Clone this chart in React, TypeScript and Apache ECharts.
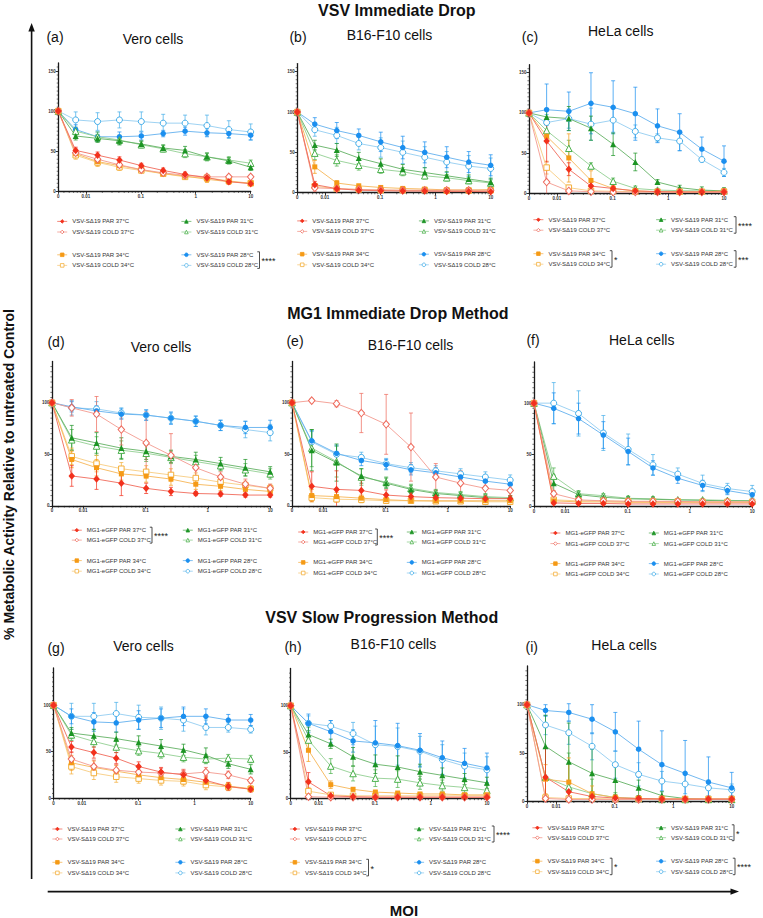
import React, { useEffect, useRef } from "react";
import * as echarts from "echarts";

const FONT = "'Liberation Sans', Arial, Helvetica, sans-serif";

// ---------------- data ----------------
// MOI doses (2.5-fold dilutions from 10); 0 = untreated control
const MOI = [0, 0.0065536, 0.016384, 0.04096, 0.1024, 0.256, 0.64, 1.6, 4, 10];
const X_TICK_LABELS = ["0", "0.01", "0.1", "1", "10"];
const Y_TICK_STEP = 50;

const SECTION_TITLES = ["VSV Immediate Drop", "MG1 Immediate Drop Method", "VSV Slow Progression Method"];
const PANEL_LETTERS = ["(a)", "(b)", "(c)", "(d)", "(e)", "(f)", "(g)", "(h)", "(i)"];
const PANEL_CELLS = ["Vero cells", "B16-F10 cells", "HeLa cells", "Vero cells", "B16-F10 cells", "HeLa cells", "Vero cells", "B16-F10 cells", "HeLa cells"];
const PANEL_VIRUS = ["VSV-SΔ19", "VSV-SΔ19", "VSV-SΔ19", "MG1-eGFP", "MG1-eGFP", "MG1-eGFP", "VSV-SΔ19", "VSV-SΔ19", "VSV-SΔ19"];
// series order in every panel: PAR 37, COLD 37, PAR 34, COLD 34, PAR 31, COLD 31, PAR 28, COLD 28
const SERIES_LABELS = ["PAR 37°C", "COLD 37°C", "PAR 34°C", "COLD 34°C", "PAR 31°C", "COLD 31°C", "PAR 28°C", "COLD 28°C"];

// (a) VSV immediate drop, Vero
const a_mean = [
  [100, 51, 45, 39, 32, 26, 21, 17, 12, 9.5],
  [100, 48, 40, 33, 27, 23, 20, 18, 18, 18],
  [100, 47, 37, 32, 27, 22, 19, 15, 12, 10],
  [100, 45, 36, 30, 26, 22, 18, 17, 13, 10],
  [100, 69, 66, 63, 59, 54, 51, 43, 38, 30],
  [100, 75, 68, 64, 58, 53, 47, 43, 39, 35],
  [100, 77, 68, 68, 69, 72, 75, 73, 72, 70],
  [100, 89, 87, 89, 87, 85, 85, 82, 77, 74],
];
const a_sd = [
  [0, 4, 4, 4, 3, 3, 3, 3, 3, 2],
  [0, 5, 5, 4, 3, 3, 3, 3, 2, 2],
  [0, 5, 5, 4, 3, 3, 3, 4, 3, 2],
  [0, 5, 5, 4, 3, 3, 3, 4, 3, 2],
  [0, 5, 5, 5, 4, 4, 5, 5, 4, 4],
  [0, 5, 6, 6, 4, 4, 5, 4, 4, 4],
  [0, 6, 6, 6, 5, 4, 5, 5, 5, 6],
  [0, 10, 11, 10, 12, 11, 10, 13, 11, 10],
];
// (b) VSV immediate drop, B16-F10
const b_mean = [
  [100, 10, 5, 3, 2.5, 2, 2, 1.6, 1.6, 1.2],
  [100, 6, 5, 4, 3.5, 3, 3, 3, 3, 3],
  [100, 32, 12, 8.5, 6.5, 5.3, 4.5, 3.5, 3.5, 3.7],
  [100, 8, 5, 4, 3, 3, 3, 2.5, 2.5, 3],
  [100, 59, 53, 43, 36, 29, 25, 21, 17, 13],
  [100, 49, 40, 34, 29, 26, 21, 18.5, 15, 12],
  [100, 85, 77, 71, 63, 56, 50, 44, 38, 34],
  [100, 78, 71, 61, 56, 50, 44, 38, 33, 30],
];
const b_sd = [
  [0, 4, 2, 2, 1, 1, 1, 1, 1, 1],
  [0, 4, 2, 2, 1, 1, 1, 1, 1, 1],
  [0, 8, 3, 2, 2, 1, 1, 1, 1, 1],
  [0, 3, 2, 1, 1, 1, 1, 1, 1, 1],
  [0, 6, 8, 7, 6, 6, 6, 5, 5, 5],
  [0, 8, 7, 6, 5, 5, 4, 4, 4, 4],
  [0, 8, 10, 8, 12, 14, 13, 13, 13, 13],
  [0, 8, 10, 8, 12, 14, 13, 13, 13, 13],
];
// (c) VSV immediate drop, HeLa
const c_mean = [
  [100, 65, 30, 9, 6, 3, 2, 1.6, 1.6, 1.6],
  [100, 14, 3, 2, 1.5, 1.5, 1.5, 1.5, 1.5, 1.5],
  [100, 71, 44, 16, 6, 3, 2, 1.6, 1.6, 3],
  [100, 32, 7, 3, 2.5, 2, 2, 2, 2, 2],
  [100, 95, 93, 81, 61, 39, 14, 7, 4, 3],
  [100, 78, 56, 34, 15, 6, 4, 3.3, 3, 3],
  [100, 104, 102, 112, 107, 99, 84, 76, 55, 40],
  [100, 88, 93, 86, 91, 77, 69, 65, 42, 26],
];
const c_sd = [
  [0, 26, 8, 5, 3, 2, 1, 1, 1, 1],
  [0, 20, 3, 1, 1, 1, 1, 1, 1, 1],
  [0, 5, 30, 12, 4, 2, 1, 1, 1, 1],
  [0, 8, 3, 1, 1, 1, 1, 1, 1, 1],
  [0, 10, 15, 15, 14, 11, 3, 3, 4, 4],
  [0, 8, 10, 4, 4, 3, 2, 1, 1, 1],
  [0, 32, 24, 38, 33, 33, 21, 23, 15, 19],
  [0, 10, 12, 20, 15, 8, 5, 12, 3, 5],
];
// (d) MG1 immediate drop, Vero
const d_mean = [
  [100, 29, 26, 22, 17, 14, 12, 11.5, 10.5, 10.5],
  [100, 95, 89, 74, 61, 49, 37, 28, 21, 17],
  [100, 45, 37, 31, 29, 26, 21, 19, 16, 14],
  [100, 48, 41, 36, 33, 30, 27, 23, 20, 17],
  [100, 66, 61, 56, 53, 48, 45, 41, 37, 33],
  [100, 64, 58, 54, 51, 47, 43, 39, 35, 31],
  [100, 96, 92, 89, 88, 85, 82, 78, 76, 76],
  [100, 95, 94, 90, 88, 85, 82, 78, 74, 71],
];
const d_sd = [
  [0, 10, 10, 12, 5, 4, 2, 2, 2, 2],
  [0, 8, 17, 15, 30, 21, 8, 5, 5, 4],
  [0, 8, 8, 6, 6, 6, 5, 4, 4, 4],
  [0, 8, 8, 6, 6, 6, 5, 4, 4, 4],
  [0, 12, 10, 10, 8, 6, 7, 6, 8, 5],
  [0, 10, 9, 9, 8, 6, 6, 5, 6, 5],
  [0, 5, 5, 5, 5, 6, 5, 5, 6, 7],
  [0, 7, 7, 5, 5, 5, 5, 5, 8, 8],
];
// (e) MG1 immediate drop, B16-F10
const e_mean = [
  [100, 19, 16, 15, 10.5, 9, 8, 7.5, 7, 7],
  [100, 102, 99, 90, 79, 57, 28, 22, 17, 15],
  [100, 10, 9, 7.5, 6, 5, 5, 5, 5, 5],
  [100, 8, 6.5, 6, 5, 5, 4.5, 4.5, 4, 4],
  [100, 54, 42, 29, 22, 16, 12, 10, 8, 7],
  [100, 56, 43, 28, 23, 17, 13, 11, 9, 8],
  [100, 63, 51, 44, 40, 35, 32, 28, 24, 21],
  [100, 62, 50, 47, 41, 37, 34, 31, 28, 25],
];
const e_sd = [
  [0, 14, 18, 10, 5, 4, 3, 3, 3, 3],
  [0, 2, 3, 19, 29, 33, 13, 12, 8, 5],
  [0, 6, 4, 3, 2, 2, 2, 2, 2, 2],
  [0, 4, 3, 3, 2, 2, 2, 2, 2, 2],
  [0, 20, 18, 7, 5, 4, 3, 3, 3, 2],
  [0, 18, 15, 8, 5, 4, 3, 3, 3, 2],
  [0, 10, 8, 5, 5, 5, 5, 5, 5, 5],
  [0, 10, 8, 5, 5, 5, 5, 5, 5, 5],
];
// (f) MG1 immediate drop, HeLa
const f_mean = [
  [100, 3, 2.5, 2.5, 2, 2, 2, 2, 2, 2],
  [100, 12, 6, 5, 4.5, 4.5, 4.5, 4, 4, 4],
  [100, 5, 4, 4, 3.5, 3.5, 3.5, 3.5, 3.5, 3.5],
  [100, 6, 5, 5, 4.5, 4.5, 4.5, 4, 4, 4],
  [100, 22, 11, 8.5, 7, 6.5, 6, 5.5, 5, 5],
  [100, 29, 12, 10, 7.5, 7, 6, 6, 5.5, 5],
  [100, 95, 85, 69, 53, 37, 27, 20, 15, 11],
  [100, 100, 90, 71, 55, 40, 31, 22, 17, 14],
];
const f_sd = [
  [0, 1, 1, 1, 1, 1, 1, 1, 1, 1],
  [0, 3, 2, 1, 1, 1, 1, 1, 1, 1],
  [0, 1, 1, 1, 1, 1, 1, 1, 1, 1],
  [0, 1, 1, 1, 1, 1, 1, 1, 1, 1],
  [0, 8, 3, 2, 2, 2, 1, 1, 1, 1],
  [0, 8, 3, 2, 2, 2, 1, 1, 1, 1],
  [0, 15, 15, 13, 13, 7, 5, 5, 4, 4],
  [0, 20, 22, 17, 15, 10, 6, 8, 5, 6],
];
// (g) VSV slow progression, Vero
const g_mean = [
  [100, 55, 49, 43, 34, 28, 25, 19, 12.5, 9.5],
  [100, 42, 34, 30, 28, 27, 26, 28, 25, 19],
  [100, 38, 33, 29, 25, 22, 20, 17, 13, 10],
  [100, 34, 27, 23, 21, 19, 18, 14, 12, 10],
  [100, 70, 67, 64, 60, 56, 52, 46, 37, 31],
  [100, 68, 61, 55, 51, 48, 44, 42, 43, 42],
  [100, 88, 82, 81, 84, 86, 88, 88, 84, 84],
  [100, 88, 88, 91, 87, 86, 84, 76, 76, 74],
];
const g_sd = [
  [0, 6, 6, 6, 5, 5, 5, 5, 4, 3],
  [0, 8, 7, 6, 5, 5, 5, 5, 4, 3],
  [0, 8, 7, 6, 5, 5, 5, 5, 4, 3],
  [0, 8, 7, 6, 5, 5, 5, 5, 4, 3],
  [0, 6, 7, 7, 7, 7, 6, 8, 5, 5],
  [0, 6, 6, 6, 5, 5, 5, 5, 4, 4],
  [0, 8, 10, 10, 10, 10, 10, 8, 6, 6],
  [0, 14, 14, 12, 13, 12, 12, 8, 5, 4],
];
// (h) VSV slow progression, B16-F10
const h_mean = [
  [100, 18, 3, 2, 1.5, 1.5, 1.5, 1.5, 1.5, 1.5],
  [100, 2, 1.5, 1.5, 1.5, 1.5, 1.5, 1.5, 1.5, 1.5],
  [100, 52, 15, 10, 7, 6, 5, 5, 4, 4],
  [100, 8, 4, 3, 3, 3, 3, 3, 3, 3],
  [100, 69, 59, 45, 37, 34, 29, 25, 21, 17],
  [100, 63, 35, 27, 22, 21, 17, 14, 12, 9],
  [100, 81, 72, 62, 60, 57, 52, 44, 38, 33],
  [100, 81, 78, 70, 58, 56, 51, 42, 35, 31],
];
const h_sd = [
  [0, 10, 3, 1, 1, 1, 1, 1, 1, 1],
  [0, 2, 1, 1, 1, 1, 1, 1, 1, 1],
  [0, 12, 4, 2, 2, 1, 1, 1, 1, 1],
  [0, 4, 2, 1, 1, 1, 1, 1, 1, 1],
  [0, 8, 5, 10, 10, 12, 8, 8, 6, 6],
  [0, 10, 8, 8, 9, 9, 7, 6, 6, 5],
  [0, 10, 12, 12, 24, 24, 18, 18, 16, 16],
  [0, 8, 6, 12, 20, 20, 16, 16, 14, 14],
];
// (i) VSV slow progression, HeLa
const i_mean = [
  [100, 25, 10, 5, 3.5, 3, 2.5, 2.5, 2.5, 2.5],
  [100, 3, 2, 2, 2, 2, 2, 2, 2, 2],
  [100, 23, 20, 8, 4, 3, 2.5, 2.5, 2.5, 2.5],
  [100, 4, 3, 3, 2.5, 2.5, 2.5, 2.5, 2.5, 2.5],
  [100, 57, 41, 29, 22, 14, 6, 3, 2, 2],
  [100, 25, 15, 8, 4, 3, 2, 2, 2, 2],
  [100, 94, 92, 85, 72, 54, 38, 29, 20, 14],
  [100, 79, 71, 57, 38, 28, 21, 18, 14, 12],
];
const i_sd = [
  [0, 30, 8, 4, 2, 1, 1, 1, 1, 1],
  [0, 2, 1, 1, 1, 1, 1, 1, 1, 1],
  [0, 15, 25, 8, 3, 1, 1, 1, 1, 1],
  [0, 3, 1, 1, 1, 1, 1, 1, 1, 1],
  [0, 32, 40, 25, 15, 8, 4, 2, 1, 1],
  [0, 30, 35, 15, 5, 3, 1, 1, 1, 1],
  [0, 6, 9, 15, 20, 29, 35, 34, 26, 16],
  [0, 10, 12, 14, 14, 12, 10, 10, 8, 6],
];

const PANEL_MEANS = [a_mean, b_mean, c_mean, d_mean, e_mean, f_mean, g_mean, h_mean, i_mean];
const PANEL_SDS = [a_sd, b_sd, c_sd, d_sd, e_sd, f_sd, g_sd, h_sd, i_sd];

// significance marks: [panel, legend column (0 L / 1 R), legend pair (0 top / 1 bottom), stars]
const SIGNIFICANCE: [number, number, number, string][] = [
  [0, 1, 1, "****"],
  [2, 1, 0, "****"], [2, 0, 1, "*"], [2, 1, 1, "***"],
  [3, 0, 0, "****"],
  [4, 0, 0, "****"],
  [7, 1, 0, "****"], [7, 0, 1, "*"],
  [8, 1, 0, "*"], [8, 0, 1, "*"], [8, 1, 1, "****"],
];

// ---------------- layout & style ----------------
const SIG_BRACKET_X = [259.5, 736, 612, 736, 152, 377.3, 494, 368.5, 734, 612, 735];

type Lay = { x0: number; x1: number; y0: number; y1: number; ymax: number; letter: number[]; title: number[]; legX: number[]; legY: number[] };
const LAYOUT: Lay[] = [
  { x0: 58.3, x1: 250.7, y0: 191.3, y1: 63, ymax: 160, letter: [55, 37], title: [153, 38.5], legX: [61.8, 186], legY: [221.4, 232, 254.8, 265.4] },
  { x0: 297.3, x1: 490.7, y0: 192.7, y1: 63.6, ymax: 160, letter: [298, 37], title: [389.5, 35], legX: [301.8, 423.5], legY: [220.9, 231.4, 254.2, 264.8] },
  { x0: 529, x1: 724, y0: 193.3, y1: 64.7, ymax: 160, letter: [530, 37], title: [620.7, 31], legX: [538, 660.7], legY: [219.7, 230.2, 253.7, 264.2] },
  { x0: 52, x1: 270.2, y0: 505.9, y1: 361.4, ymax: 140, letter: [56, 342], title: [161, 346.5], legX: [76.4, 187.4], legY: [530.2, 540.1, 560.6, 571.2] },
  { x0: 292, x1: 510.2, y0: 505.9, y1: 361.4, ymax: 140, letter: [295, 340.5], title: [410.5, 345], legX: [302.8, 411.4], legY: [532, 542, 562.4, 573] },
  { x0: 534, x1: 752.2, y0: 506, y1: 362, ymax: 140, letter: [533, 340], title: [641.7, 340], legX: [555, 653.4], legY: [533, 543.6, 563.6, 574] },
  { x0: 53.6, x1: 250.7, y0: 798.1, y1: 668, ymax: 140, letter: [56, 647.5], title: [143.5, 646], legX: [57, 180], legY: [829, 839, 862.3, 872.9] },
  { x0: 290.7, x1: 486.9, y0: 798.6, y1: 668.5, ymax: 140, letter: [293, 647], title: [393.4, 644], legX: [294.5, 418.7], legY: [829, 839, 862.3, 872.9] },
  { x0: 527, x1: 731.7, y0: 801.4, y1: 666, ymax: 140, letter: [531.7, 647], title: [624, 645], legX: [537, 660.7], legY: [827.8, 837.7, 861.2, 871.7] },
];
const SECTION_POS = [[396.8, 10.5], [397.8, 313.4], [381.7, 617]];

const STYLES = [
  { color: "#f2311d", line: "#f06a5a", symbol: "diamond", size: [6.5, 7.5], filled: true },
  { color: "#ee6a5c", line: "#f39a8f", symbol: "diamond", size: [6.5, 7.5], filled: false },
  { color: "#f59a16", line: "#f6b556", symbol: "rect", size: 5, filled: true },
  { color: "#f4b03c", line: "#f7cc80", symbol: "rect", size: 5.5, filled: false },
  { color: "#1c9424", line: "#62b163", symbol: "triangle", size: 6, filled: true },
  { color: "#4cb14d", line: "#92cf92", symbol: "triangle", size: 6.5, filled: false },
  { color: "#1b8fef", line: "#62b0ee", symbol: "circle", size: 5.5, filled: true },
  { color: "#45aee9", line: "#93cdf0", symbol: "circle", size: 6, filled: false },
];
const DRAW_ORDER = [7, 6, 5, 4, 3, 2, 1, 0];
const LEGEND_GROUPS = [
  { idx: [0, 1], col: 0, pair: 0 },
  { idx: [4, 5], col: 1, pair: 0 },
  { idx: [2, 3], col: 0, pair: 1 },
  { idx: [6, 7], col: 1, pair: 1 },
];

const ZERO_POS = Math.pow(10, -2.5); // axis position of the "0" dose
const xPos = (m: number) => (m === 0 ? ZERO_POS : m);
const AX = "#1a1a1a";

function xLabel(v: number) {
  const e = Math.log10(v);
  if (e < -2.25) return X_TICK_LABELS[0];
  return X_TICK_LABELS[Math.round(e) + 3] ?? "";
}

function errRender(color: string) {
  return (_p: any, api: any) => {
    const x = api.value(0), lo = api.value(1), hi = api.value(2);
    const a = api.coord([x, hi]);
    const b = api.coord([x, lo]);
    const st = { stroke: color, lineWidth: 0.8, opacity: 0.9 };
    const ch: any[] = [
      { type: "line", shape: { x1: a[0], y1: a[1], x2: b[0], y2: b[1] }, style: st },
      { type: "line", shape: { x1: a[0] - 2, y1: a[1], x2: a[0] + 2, y2: a[1] }, style: st },
    ];
    if (lo > 0) ch.push({ type: "line", shape: { x1: b[0] - 2, y1: b[1], x2: b[0] + 2, y2: b[1] }, style: st });
    return { type: "group", children: ch };
  };
}

function tickRender(_p: any, api: any) {
  const p = api.coord([api.value(0), api.value(1)]);
  const kind = api.value(2);
  const st = { stroke: AX, lineWidth: 0.6 };
  if (kind === 0) return { type: "line", shape: { x1: p[0], y1: p[1], x2: p[0], y2: p[1] + 1.6 }, style: st };
  return { type: "line", shape: { x1: p[0] - 1.6, y1: p[1], x2: p[0], y2: p[1] }, style: st };
}

function txt(x: number, y: number, text: string, size: number, weight = "normal", extra: any = {}) {
  return {
    type: "text", x, y, silent: true, ...extra,
    style: { text, fontSize: size, fontWeight: weight, fontFamily: FONT, fill: "#111", align: "center", verticalAlign: "middle", textAlign: "center", textVerticalAlign: "middle" },
  };
}

function buildOption() {
  const grid: any[] = [], xAxis: any[] = [], yAxis: any[] = [], series: any[] = [], legend: any[] = [], graphic: any[] = [];

  // minor ticks on log axis
  const xMinor: number[] = [];
  for (let d = -3; d <= 0; d++) for (let k = 2; k <= 9; k++) {
    const v = k * Math.pow(10, d);
    if (v > ZERO_POS * 1.02 && v < 10) xMinor.push(v);
  }

  LAYOUT.forEach((L, p) => {
    grid.push({ left: L.x0, top: L.y1, width: L.x1 - L.x0, height: L.y0 - L.y1 });
    xAxis.push({
      type: "log", logBase: 10, gridIndex: p, min: ZERO_POS, max: 10,
      axisLine: { show: true, onZero: false, lineStyle: { color: AX, width: 1.3 } },
      axisTick: { show: true, length: 2.5, lineStyle: { color: AX, width: 0.9 } },
      axisLabel: { fontSize: 4.5, fontWeight: "bold", color: "#333", margin: 2.5, fontFamily: FONT, formatter: xLabel },
      splitLine: { show: false }, minorTick: { show: false }, minorSplitLine: { show: false },
    });
    yAxis.push({
      type: "value", gridIndex: p, min: 0, max: L.ymax, interval: Y_TICK_STEP,
      axisLine: { show: true, onZero: false, lineStyle: { color: AX, width: 1.3 } },
      axisTick: { show: true, length: 2.5, lineStyle: { color: AX, width: 0.9 } },
      axisLabel: { fontSize: 4.5, fontWeight: "bold", color: "#333", margin: 2.5, fontFamily: FONT, showMaxLabel: false,
        formatter: (v: number) => (v % Y_TICK_STEP === 0 ? String(v) : "") },
      splitLine: { show: false },
    });

    const tickData: number[][] = xMinor.map((v) => [v, 0, 0]);
    for (let v = 5; v < L.ymax; v += 5) if (v % Y_TICK_STEP !== 0) tickData.push([ZERO_POS, v, 1]);
    series.push({ type: "custom", xAxisIndex: p, yAxisIndex: p, silent: true, z: 5, data: tickData, renderItem: tickRender, encode: { x: 0, y: 1 } });

    const means = PANEL_MEANS[p], sds = PANEL_SDS[p];
    DRAW_ORDER.forEach((s) => {
      const st = STYLES[s];
      const errData = MOI.map((m, k) => [xPos(m), Math.max(0, means[s][k] - sds[s][k]), means[s][k] + sds[s][k], sds[s][k]])
        .filter((d) => d[3] > 0).map((d) => d.slice(0, 3));
      series.push({ type: "custom", xAxisIndex: p, yAxisIndex: p, silent: true, z: 2, data: errData, renderItem: errRender(st.color), encode: { x: 0, y: [1, 2] } });
    });
    DRAW_ORDER.forEach((s) => {
      const st = STYLES[s];
      series.push({
        type: "line", name: `${PANEL_VIRUS[p]} ${SERIES_LABELS[s]}`, xAxisIndex: p, yAxisIndex: p, z: 3, silent: true,
        data: MOI.map((m, k) => [xPos(m), means[s][k]]),
        symbol: st.symbol, symbolSize: st.size, showSymbol: true,
        itemStyle: { color: st.filled ? st.color : "#ffffff", borderColor: st.color, borderWidth: st.filled ? 0 : 1 },
        lineStyle: { color: st.line, width: 0.9 },
        emphasis: { disabled: true },
      });
    });

    LEGEND_GROUPS.forEach((g) => {
      const yA = L.legY[g.pair * 2], yB = L.legY[g.pair * 2 + 1];
      legend.push({
        orient: "vertical", left: L.legX[g.col] - 5, top: yA - 3, padding: 0,
        itemWidth: 10, itemHeight: 4.5, itemGap: yB - yA - 6, selectedMode: false,
        itemStyle: { borderWidth: 0.8 },
        lineStyle: { width: 0.8 },
        textStyle: { fontSize: 6, color: "#333", lineHeight: 6, fontFamily: FONT },
        data: g.idx.map((s) => `${PANEL_VIRUS[p]} ${SERIES_LABELS[s]}`),
      });
    });

    graphic.push(txt(L.letter[0], L.letter[1], PANEL_LETTERS[p], 14));
    graphic.push(txt(L.title[0], L.title[1], PANEL_CELLS[p], 14));
  });

  SECTION_TITLES.forEach((t, i) => graphic.push(txt(SECTION_POS[i][0], SECTION_POS[i][1], t, 16, "bold")));

  SIGNIFICANCE.forEach(([p, col, pair, stars], i) => {
    const L = LAYOUT[p];
    const yA = L.legY[pair * 2] - 3, yB = L.legY[pair * 2 + 1] + 3;
    const bx = SIG_BRACKET_X[i];
    graphic.push({ type: "polyline", silent: true, shape: { points: [[bx - 2.2, yA], [bx, yA], [bx, yB], [bx - 2.2, yB]] }, style: { stroke: "#222", lineWidth: 0.8, fill: null } });
    graphic.push({ type: "text", x: bx + 2, y: (yA + yB) / 2 + 1, silent: true,
      style: { text: stars, fontSize: 9, fontFamily: FONT, fill: "#222", align: "left", verticalAlign: "middle", textAlign: "left", textVerticalAlign: "middle" } });
  });

  // big axis arrows and labels
  graphic.push({ type: "line", silent: true, shape: { x1: 31.6, y1: 879, x2: 31.6, y2: 30 }, style: { stroke: "#111", lineWidth: 1.6 } });
  graphic.push({ type: "polygon", silent: true, shape: { points: [[31.6, 23], [28.4, 31.5], [34.8, 31.5]] }, style: { fill: "#111" } });
  graphic.push({ type: "line", silent: true, shape: { x1: 47.7, y1: 891.6, x2: 731, y2: 891.6 }, style: { stroke: "#111", lineWidth: 1.6 } });
  graphic.push({ type: "polygon", silent: true, shape: { points: [[739, 891.6], [730.5, 888.4], [730.5, 894.8]] }, style: { fill: "#111" } });
  graphic.push(txt(9, 474.5, "% Metabolic Activity Relative to untreated Control", 14, "bold", { rotation: Math.PI / 2 }));
  graphic.push(txt(404, 910, "MOI", 15, "bold"));

  return {
    animation: false,
    backgroundColor: "#ffffff",
    textStyle: { fontFamily: FONT },
    grid, xAxis, yAxis, series, legend, graphic,
  };
}

export default function App() {
  const ref = useRef<HTMLDivElement>(null);
  useEffect(() => {
    const chart = echarts.init(ref.current as HTMLDivElement, null, { renderer: "svg" });
    chart.setOption(buildOption() as any);
    return () => chart.dispose();
  }, []);
  return <div ref={ref} style={{ position: "absolute", left: 0, top: 0, width: 763, height: 918 }} />;
}
